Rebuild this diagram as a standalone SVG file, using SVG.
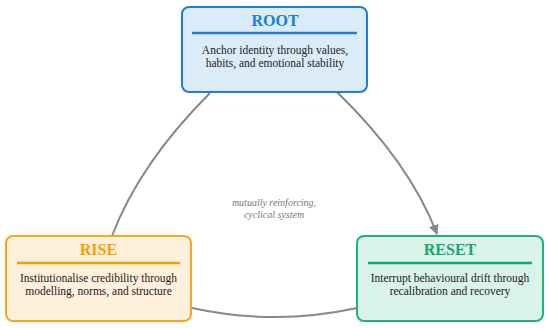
<svg xmlns="http://www.w3.org/2000/svg" width="550" height="328" viewBox="0 0 550 328">
<style>
.box{stroke-width:2}
.title{font-family:"Liberation Serif","Times New Roman",serif;font-weight:bold;font-size:16px;text-anchor:middle}
.body{font-family:"Liberation Serif","Times New Roman",serif;font-size:11.5px;fill:#222;text-anchor:middle}
.rule{stroke-width:2.5}
.conn{fill:none;stroke:#888;stroke-width:2}
.note{font-family:"Liberation Serif","Times New Roman",serif;font-style:italic;font-size:10px;fill:#777;text-anchor:middle}
</style>
<defs>
<marker id="arr" viewBox="0 0 10 10" refX="9" refY="5" markerWidth="5" markerHeight="5" orient="auto" markerUnits="strokeWidth">
<path d="M0,0 L10,5 L0,10 z" fill="#888"/>
</marker>
</defs>
<g id="connectors">
<path class="conn" d="M210,93 Q139.5,163.5 112,236"/>
<path class="conn" d="M337,92 Q410,163 437,234" marker-end="url(#arr)"/>
<path class="conn" d="M192,308 Q274.5,326 357,308"/>
</g>
<g id="root">
<rect class="box" x="182" y="7" width="185" height="85" rx="7" fill="#dcebf8" stroke="#1a7fd6"/>
<text class="title" x="275" y="26" fill="#1a7fd6">ROOT</text>
<line class="rule" x1="192" y1="33" x2="357" y2="33" stroke="#1a7fd6"/>
<text class="body" x="275" y="54">Anchor identity through values,</text>
<text class="body" x="275" y="66.5">habits, and emotional stability</text>
</g>
<g id="rise">
<rect class="box" x="6" y="236" width="185" height="85" rx="7" fill="#fff0dc" stroke="#f5a623"/>
<text class="title" x="98.5" y="255" fill="#f5a000">RISE</text>
<line class="rule" x1="17" y1="263" x2="180" y2="263" stroke="#f5a000"/>
<text class="body" x="98.5" y="282">Institutionalise credibility through</text>
<text class="body" x="98.5" y="294.5">modelling, norms, and structure</text>
</g>
<g id="reset">
<rect class="box" x="357" y="236" width="186" height="85" rx="7" fill="#d9f2ea" stroke="#1db37a"/>
<text class="title" x="450" y="255" fill="#14a870">RESET</text>
<line class="rule" x1="368" y1="263" x2="532" y2="263" stroke="#14a870"/>
<text class="body" x="450" y="282">Interrupt behavioural drift through</text>
<text class="body" x="450" y="294.5">recalibration and recovery</text>
</g>
<g id="note">
<text class="note" x="274" y="206">mutually reinforcing,</text>
<text class="note" x="274" y="217.5">cyclical system</text>
</g>
</svg>
